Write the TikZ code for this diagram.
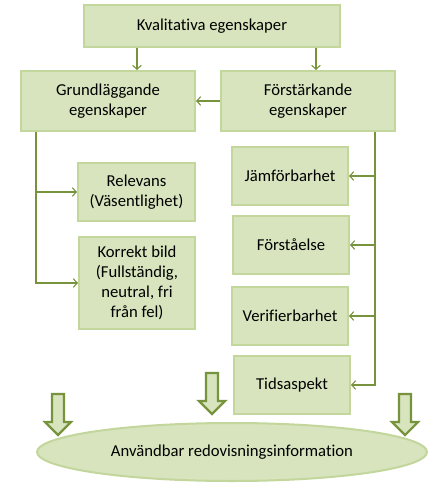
\documentclass[tikz,border=0pt]{standalone}
\usepackage{fontspec}
\setmainfont[Ligatures=NoCommon]{Carlito}
\usepackage{tikz}
\usetikzlibrary{arrows,arrows.meta,shapes}
\definecolor{boxfill}{HTML}{D7E4BD}
\definecolor{boxline}{HTML}{C3D69B}
\definecolor{linkcol}{HTML}{77933C}
\newlength\px
\setlength\px{0.75pt}
\tikzstyle{box}=[draw=boxline,fill=boxfill,line width=1.5pt,align=center,inner sep=0pt,font=\fontsize{12.5}{15}\selectfont]
\tikzstyle{link} = [draw=linkcol,line width=0.8pt,->,>={Straight Barb[length=3pt,width=6.5pt]}]
\tikzstyle{blockarrow} = [draw=linkcol,fill=boxfill,line width=1.6pt,line join=miter]

\begin{document}
\begin{tikzpicture}[x=0.75pt,y=-0.75pt]
    \useasboundingbox (0,0) rectangle (440,489);
    % Top box and the two main groups
    \node[box,minimum width=256\px,minimum height=42\px] (kval) at (212,26) {Kvalitativa egenskaper};
    \foreach \pos/\name/\text in {{(108,101)/grund/Grundläggande\\egenskaper}, {(308,101)/forst/Förstärkande\\egenskaper}}
        \node[box,minimum width=174\px,minimum height=60\px] (\name) at \pos {\text};
    % Fundamental properties
    \node[box,minimum width=117\px,minimum height=58\px] (relev) at (136.5,192) {Relevans\\(Väsentlighet)};
    \node[box,minimum width=116\px,minimum height=92\px] (korr) at (137,283) {Korrekt bild\\(Fullständig,\\neutral, fri\\från fel)};
    % Enhancing properties
    \foreach \pos/\name/\text in {{(290,176)/jamf/Jämförbarhet}, {(291,245)/forsta/Förståelse}, {(290,316)/verif/Verifierbarhet}, {(292,385)/tids/Tidsaspekt}}
        \node[box,minimum width=116\px,minimum height=58\px] (\name) at \pos {\text};
    % Result
    \node[box,ellipse,minimum width=390\px,minimum height=58\px] (info) at (232,452) {Användbar redovisningsinformation};
    % Connect boxes
    \path[link] (kval.south -| 137,0) -- (grund.north -| 137,0);
    \path[link] (kval.south -| 316,0) -- (forst.north -| 316,0);
    \path[link] (forst.west) -- (grund.east);
    \foreach \dest in {relev, korr}
        \path[link] (grund.south -| 36,0) |- (\dest.west);
    \foreach \dest in {jamf, forsta, verif, tids}
        \path[link] (forst.south -| 375,0) |- (\dest.east);
    % Big arrows down to the result
    \foreach \x/\y in {58/394, 212/373, 405/394}
        \draw[blockarrow] (\x-6,\y) -- (\x+6,\y) -- (\x+6,\y+28) -- (\x+13,\y+28) -- (\x,\y+41)
            -- (\x-13,\y+28) -- (\x-6,\y+28) -- cycle;
\end{tikzpicture}
\end{document}
